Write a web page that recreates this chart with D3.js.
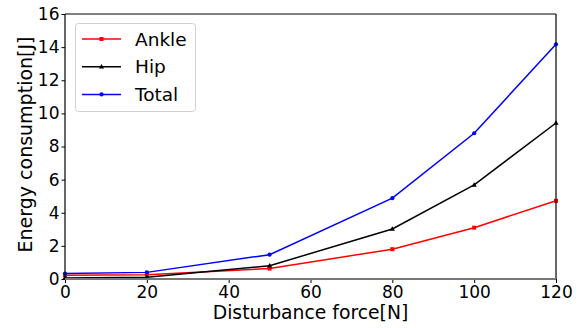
<!DOCTYPE html>
<html>
<head>
<meta charset="utf-8">
<script src="https://cdn.jsdelivr.net/npm/d3@7"></script>
<style>
  html, body { margin: 0; padding: 0; background: #fff; }
  svg { display: block; font-family: "DejaVu Sans", sans-serif; }
</style>
</head>
<body>
<svg id="chart" width="585" height="328"></svg>
<script>
// Disturbance force (N) applied at each trial
const forces = [0, 20, 50, 80, 100, 120];
// Energy consumption (J) per joint and total
const ankle = [0.22, 0.26, 0.63, 1.8, 3.1, 4.72];
const hip = [0.06, 0.1, 0.8, 3.02, 5.68, 9.42];
const total = [0.33, 0.4, 1.47, 4.88, 8.8, 14.17];

const xTicks = [0, 20, 40, 60, 80, 100, 120];
const yTicks = [0, 2, 4, 6, 8, 10, 12, 14, 16];

const seriesNames = ["Ankle", "Hip", "Total"];
const seriesValues = [ankle, hip, total];
const seriesColors = ["#ff0000", "#000000", "#0000ff"];
const seriesMarkers = ["square", "triangle", "circle"];

const margin = { left: 65, right: 29, top: 14, bottom: 49 };
const W = 585, H = 328;
const svg = d3.select("#chart");

const x = d3.scaleLinear().domain([0, 120]).range([margin.left, W - margin.right]);
const y = d3.scaleLinear().domain([0, 16]).range([H - margin.bottom, margin.top]);

const line = d3.line().x(d => x(d.f)).y(d => y(d.v));

function marker(sel, kind, color) {
  if (kind === "square") {
    sel.append("rect").attr("x", -2).attr("y", -2).attr("width", 4).attr("height", 4).attr("fill", color);
  } else if (kind === "triangle") {
    sel.append("path").attr("d", "M0,-2.8L2.6,1.8L-2.6,1.8Z").attr("fill", color);
  } else {
    sel.append("circle").attr("r", 2.1).attr("fill", color);
  }
}

// Series lines and markers
seriesValues.forEach((vals, i) => {
  const pts = forces.map((f, j) => ({ f, v: vals[j] }));
  const g = svg.append("g");
  g.append("path").datum(pts).attr("d", line)
    .attr("fill", "none").attr("stroke", seriesColors[i]).attr("stroke-width", 1.5);
  pts.forEach(p => {
    const m = g.append("g").attr("transform", `translate(${x(p.f)},${y(p.v)})`);
    marker(m, seriesMarkers[i], seriesColors[i]);
  });
});

// Axes
const xAxis = d3.axisBottom(x).tickValues(xTicks).tickSize(4).tickPadding(2.5).tickFormat(d3.format("d"));
const yAxis = d3.axisLeft(y).tickValues(yTicks).tickSize(3.5).tickPadding(2).tickFormat(d3.format("d"));

const gx = svg.append("g").attr("transform", `translate(0,${y(0)})`).call(xAxis);
const gy = svg.append("g").attr("transform", `translate(${x(0)},0)`).call(yAxis);
[gx, gy].forEach(g => {
  g.select(".domain").remove();
  g.selectAll(".tick line").attr("stroke", "#000").attr("stroke-width", 1);
  g.selectAll(".tick text").attr("fill", "#000").attr("font-size", 17)
    .attr("font-family", "DejaVu Sans, sans-serif");
});

// Frame around the plot area
const x0 = x(0), x1 = x(120), y0 = y(0), y1 = y(16);
svg.append("line").attr("x1", x0).attr("x2", x1).attr("y1", y1).attr("y2", y1).attr("stroke", "#000").attr("stroke-width", 1.2);
svg.append("line").attr("x1", x0).attr("x2", x0).attr("y1", y1).attr("y2", y0).attr("stroke", "#000").attr("stroke-width", 1.2);
svg.append("line").attr("x1", x1).attr("x2", x1).attr("y1", y1).attr("y2", y0).attr("stroke", "#000").attr("stroke-width", 1.2);
svg.append("line").attr("x1", x0).attr("x2", x1).attr("y1", y0).attr("y2", y0).attr("stroke", "#777").attr("stroke-width", 2);

// Axis titles
svg.append("text").attr("x", (x0 + x1) / 2).attr("y", 318.5).attr("text-anchor", "middle")
  .attr("font-size", 18.8).attr("fill", "#000").text("Disturbance force[N]");
svg.append("text").attr("transform", `translate(32,${(y0 + y1) / 2 - 2}) rotate(-90)`)
  .attr("text-anchor", "middle").attr("font-size", 19).attr("fill", "#000").text("Energy consumption[J]");

// Legend
const lg = svg.append("g");
lg.append("rect").attr("x", 75.5).attr("y", 23.5).attr("width", 120).attr("height", 88).attr("rx", 3)
  .attr("fill", "#fff").attr("fill-opacity", 0.8).attr("stroke", "#d0d0d0").attr("stroke-width", 1);
seriesNames.forEach((name, i) => {
  const cy = 39 + i * 27.7;
  lg.append("line").attr("x1", 82).attr("x2", 121).attr("y1", cy).attr("y2", cy)
    .attr("stroke", seriesColors[i]).attr("stroke-width", 1.5);
  const m = lg.append("g").attr("transform", `translate(101.5,${cy})`);
  marker(m, seriesMarkers[i], seriesColors[i]);
  lg.append("text").attr("x", 135).attr("y", cy + 6.5).attr("font-size", 18.5).attr("fill", "#000").text(name);
});
</script>
</body>
</html>
